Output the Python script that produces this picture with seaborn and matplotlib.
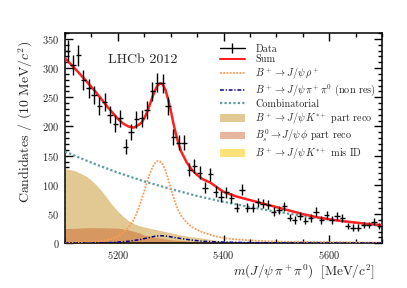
import numpy as np
import pandas as pd
import matplotlib
matplotlib.use("Agg")
import matplotlib.pyplot as plt
import seaborn as sns
from matplotlib.lines import Line2D
from matplotlib.patches import Patch
from matplotlib.ticker import MultipleLocator

# ---------------- data ----------------
bin_centers = [5105 + 10 * i for i in range(60)]
counts = [330, 305, 322, 280, 265, 254, 235, 242, 220, 205,
          214, 165, 190, 212, 214, 228, 260, 275, 274, 235,
          182, 172, 172, 126, 132, 121, 95, 118, 88, 80,
          87, 77, 61, 92, 61, 61, 70, 68, 66, 54,
          57, 63, 44, 40, 47, 39, 43, 54, 40, 48,
          40, 46, 43, 30, 27, 27, 31, 31, 37, 30]

sum_x = [5100, 5120, 5140, 5160, 5180, 5200, 5210, 5220, 5230, 5240, 5245, 5250, 5255,
         5260, 5265, 5270, 5275, 5280, 5285, 5290, 5295, 5300, 5305, 5310, 5315, 5320,
         5330, 5340, 5350, 5360, 5375, 5400, 5425, 5450, 5475, 5500, 5525, 5550, 5575,
         5600, 5625, 5650, 5675, 5700]
sum_y = [317, 298, 278, 257, 234, 213, 205, 200, 198, 203, 207, 214, 224,
         236, 249, 261, 270, 274, 272, 263, 247, 228, 206, 187, 170, 157,
         139, 126, 117, 110, 104, 88, 80, 74, 68, 62, 56, 50, 45,
         41, 38, 35.5, 33, 31]

rho_x = [5100, 5150, 5170, 5190, 5200, 5210, 5220, 5230, 5235, 5240, 5245, 5250, 5255,
         5260, 5265, 5270, 5275, 5280, 5285, 5290, 5295, 5300, 5305, 5310, 5315, 5320,
         5330, 5340, 5350, 5360, 5370, 5380, 5390, 5400, 5420, 5450, 5500, 5600, 5700]
rho_y = [0.5, 2, 4, 8, 12, 18, 27, 40, 50, 62, 75, 89, 104,
         118, 129, 137, 141, 140, 135, 125, 111, 95, 80, 66, 55, 47,
         36, 28, 23, 19, 16, 13, 11, 9, 7, 5, 3, 2, 1]

nonres_x = [5100, 5150, 5180, 5200, 5220, 5240, 5260, 5270, 5280, 5290, 5300, 5320,
            5340, 5360, 5400, 5450, 5500, 5600, 5700]
nonres_y = [0, 0.5, 1, 2, 3.5, 6, 10, 12, 13, 12.5, 11, 8,
            5.5, 3.5, 2, 1.2, 0.8, 0.5, 0.3]

comb_x = [5100, 5150, 5200, 5250, 5300, 5350, 5400, 5450, 5500, 5550, 5600, 5650, 5700]
comb_y = [157, 138, 121, 106, 93, 81, 71, 62, 54, 47, 41, 35, 30]

kst_x = [5100, 5120, 5140, 5150, 5160, 5170, 5180, 5190, 5200, 5210, 5220, 5230, 5240,
         5260, 5280, 5300, 5320, 5340, 5360, 5380, 5400, 5450, 5500, 5700]
kst_y = [128, 124, 115, 108, 99, 89, 77, 65, 55, 46, 39, 34, 30,
         26, 22, 18, 14, 11, 9, 6, 4, 2, 1, 0]

bs_x = [5100, 5150, 5200, 5220, 5240, 5250, 5260, 5280, 5300, 5330, 5360, 5400, 5450, 5700]
bs_y = [25, 27, 26, 23, 18, 14, 12, 9, 6, 4, 2.5, 1.5, 1, 0]

misid_x = [5100, 5150, 5200, 5250, 5300, 5350, 5400, 5500, 5700]
misid_y = [0.5, 1, 1.5, 1.5, 1, 0.5, 0.3, 0.1, 0]

legend_labels = ["Data", "Sum",
                 r"$B^+\to J/\psi\,\rho^+$",
                 r"$B^+\to J/\psi\,\pi^+\pi^0$ (non res)",
                 "Combinatorial",
                 r"$B^+\to J/\psi\,K^{*+}$ part reco",
                 r"$B^0_s\to J/\psi\,\phi$ part reco",
                 r"$B^+\to J/\psi\,K^{*+}$ mis ID"]

# ---------------- style ----------------
sns.set_theme(style="ticks")
plt.rcParams["font.family"] = ["cmr10", "DejaVu Serif"]
plt.rcParams["mathtext.fontset"] = "cm"
plt.rcParams["axes.formatter.use_mathtext"] = True
plt.rcParams["axes.unicode_minus"] = False

fig = plt.figure(figsize=(4.07, 2.88), dpi=100)
ax = fig.add_axes([65 / 407, 1 - 243.3 / 288, 317 / 407, 210.3 / 288])

tan_c = "#e2c994"
bs_c = (0.78, 0.32, 0.10, 0.42)
mis_c = "#ffe27a"
red_c = "#ff2020"
rho_c = "#ff9a50"
nr_c = "#000080"
comb_c = "#5f9ea0"
rho_ls = (0, (1, 0.8))
nr_ls = (0, (2.5, 1.2, 0.8, 1.2))
comb_ls = (0, (1, 1))

ax.fill_between(kst_x, kst_y, 0, color=tan_c, lw=0, zorder=1)
ax.fill_between(bs_x, bs_y, 0, color=bs_c, lw=0, zorder=2)
ax.fill_between(misid_x, misid_y, 0, color=mis_c, lw=0, zorder=2)

df_comb = pd.DataFrame({"m": comb_x, "v": comb_y})
df_rho = pd.DataFrame({"m": rho_x, "v": rho_y})
df_nr = pd.DataFrame({"m": nonres_x, "v": nonres_y})
df_sum = pd.DataFrame({"m": sum_x, "v": sum_y})

sns.lineplot(data=df_comb, x="m", y="v", ax=ax, color=comb_c, lw=1.6,
             linestyle=comb_ls, estimator=None, sort=False, zorder=3)
sns.lineplot(data=df_rho, x="m", y="v", ax=ax, color=rho_c, lw=1.3,
             linestyle=rho_ls, estimator=None, sort=False, zorder=3)
sns.lineplot(data=df_nr, x="m", y="v", ax=ax, color=nr_c, lw=1.1,
             linestyle=nr_ls, estimator=None, sort=False, zorder=3)
sns.lineplot(data=df_sum, x="m", y="v", ax=ax, color=red_c, lw=1.8,
             estimator=None, sort=False, zorder=4)

yerr = np.sqrt(np.array(counts, dtype=float))
ax.errorbar(bin_centers, counts, xerr=5, yerr=yerr, fmt="none", ecolor="black",
            elinewidth=1.0, capsize=0, zorder=5)

ax.set_xlim(5100, 5700)
ax.set_ylim(0, 360)
ax.xaxis.set_major_locator(MultipleLocator(200))
ax.xaxis.set_minor_locator(MultipleLocator(50))
ax.yaxis.set_major_locator(MultipleLocator(50))
ax.yaxis.set_minor_locator(MultipleLocator(10))
ax.tick_params(which="both", direction="in", top=True, right=True, width=1.0,
               labelsize=7.5, color="black")
ax.tick_params(which="major", length=6, pad=4)
ax.tick_params(which="minor", length=3)
for s in ax.spines.values():
    s.set_linewidth(1.1)
    s.set_color("black")

ax.set_xlabel(r"$m(J/\psi\,\pi^+\pi^0)\ \ [\mathrm{MeV}/c^2]$", fontsize=9.5, ha="right")
ax.xaxis.set_label_coords(0.978, -0.09)
ax.set_ylabel(r"Candidates / $(10\ \mathrm{MeV}/c^2)$", fontsize=10, ha="center")
ax.yaxis.set_label_coords(-0.095, 0.577)

ax.text(0.246, 0.872, "LHCb 2012", transform=ax.transAxes, fontsize=10,
        ha="center", va="center")

handles = [
    Line2D([0], [0], color="black", lw=1.0, marker="|", markersize=7, markeredgewidth=1.0),
    Line2D([0], [0], color=red_c, lw=1.5),
    Line2D([0], [0], color=rho_c, lw=1.3, linestyle=rho_ls),
    Line2D([0], [0], color=nr_c, lw=1.1, linestyle=nr_ls),
    Line2D([0], [0], color=comb_c, lw=1.6, linestyle=comb_ls),
    Patch(facecolor=tan_c, lw=0),
    Patch(facecolor=bs_c, lw=0),
    Patch(facecolor=mis_c, lw=0),
]
fig.legend(handles, legend_labels, loc="upper left",
           bbox_to_anchor=(220 / 407, 1 - 44 / 288), frameon=False, fontsize=7.3,
           handlelength=2.45, handleheight=0.8, handletextpad=1.05, labelspacing=0.12,
           borderpad=0, borderaxespad=0)

fig.savefig("out.png", dpi=100)
